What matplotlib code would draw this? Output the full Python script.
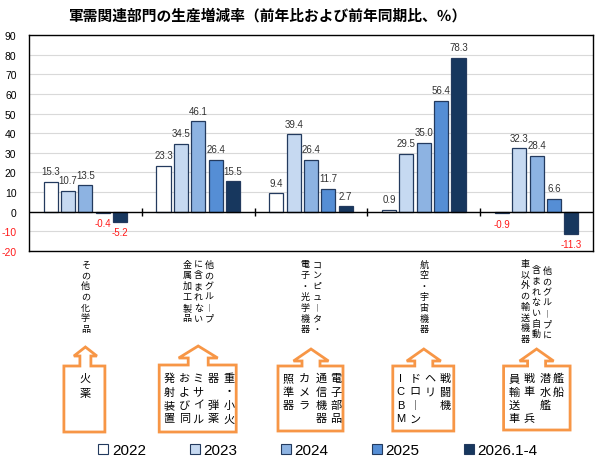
import matplotlib
matplotlib.use("Agg")
import matplotlib.pyplot as plt
import matplotlib.transforms as mtrans
from matplotlib.patches import Polygon
from matplotlib.lines import Line2D

plt.rcParams['font.family'] = ['Liberation Sans', 'Noto Sans CJK JP', 'DejaVu Sans']

# ---------------- data ----------------
categories = ["その他の化学品", "他のグループに含まれない金属加工製品",
              "コンピュータ・電子・光学機器", "航空・宇宙機器",
              "他のグループに含まれない自動車以外の輸送機器"]
series_names = ["2022", "2023", "2024", "2025", "2026.1-4"]
v2022 = [15.3, 23.3, 9.4, 0.9, -0.9]
v2023 = [10.7, 34.5, 39.4, 29.5, 32.3]
v2024 = [13.5, 46.1, 26.4, 35.0, 28.4]
v2025 = [-0.4, 26.4, 11.7, 56.4, 6.6]
v2026 = [-5.2, 15.5, 2.7, 78.3, -11.3]
series_values = [v2022, v2023, v2024, v2025, v2026]
yticks = list(range(-20, 91, 10))

# vertical category label columns (right-to-left), per category
cat_columns = [
    ["その他の化学品"],
    ["他のグル︱プ", "に含まれない", "金属加工製品"],
    ["コンピュ︱タ・", "電子・光学機器"],
    ["航空・宇宙機器"],
    ["他のグル︱プに", "含まれない自動", "車以外の輸送機器"],
]
# examples shown in callout boxes, columns right-to-left
box_columns = [
    ["火薬"],
    ["重・小火", "器　弾薬", "ミサイル", "および同", "発射装置"],
    ["電子部品", "通信機器", "カメラ", "照準器"],
    ["戦闘機", "ヘリ", "ドロ︱ン", "ICBM"],
    ["艦船", "潜水艦", "戦車　兵", "員輸送車"],
]
title = "軍需関連部門の生産増減率（前年比および前年同期比、％）"

colors = ['#ffffff', '#c6d9f1', '#8db3e2', '#558ed5', '#17375e']
edge = '#233a5e'
orange = '#f79646'

W, H = 600, 460
fig = plt.figure(figsize=(W / 100, H / 100), dpi=100)
ax = fig.add_axes([29 / W, 1 - 252 / H, 564 / W, 216 / H])

n = len(categories)
xs = list(range(n))
step = 0.154
bw = 0.125
for j, (vals, c, name) in enumerate(zip(series_values, colors, series_names)):
    pos = [x + (j - 2) * step for x in xs]
    ax.bar(pos, vals, width=bw, color=c, edgecolor=edge, linewidth=0.9,
           label=name, zorder=3)
    for p, v in zip(pos, vals):
        if v >= 0:
            ax.annotate(f"{v:.1f}", (p, v), xytext=(0, 4), textcoords='offset points',
                        ha='center', va='bottom', fontsize=7, color='#333333',
                        family='Liberation Sans')
        else:
            ax.annotate(f"{v:.1f}", (p, v), xytext=(0, -4), textcoords='offset points',
                        ha='center', va='top', fontsize=7, color='#ff1a1a',
                        family='Liberation Sans')

ax.set_xlim(-0.5, n - 0.5)
ax.set_ylim(-20, 90)
ax.set_yticks(yticks)
ax.set_yticklabels([str(t) for t in yticks], fontsize=7.5, family='Liberation Sans')
for lab, t in zip(ax.get_yticklabels(), yticks):
    lab.set_color('#ff1a1a' if t < 0 else 'black')
ax.tick_params(axis='y', length=0, pad=9)
ax.set_xticks([])
ax.grid(axis='y', color='#d9d9d9', linewidth=0.8, zorder=0)
ax.axhline(0, color='black', linewidth=1.0, zorder=4)
ax.plot([x + 0.5 for x in xs[:-1]], [0] * (n - 1), linestyle='none', marker='|',
        markersize=6, color='black', markeredgewidth=1.0, zorder=4)
for s in ax.spines.values():
    s.set_color('black')
    s.set_linewidth(1.0)

# -------- helpers in pixel space ---------
def fy(ypix):
    return 1 - ypix / H

def grp_trans(dx):
    base = mtrans.blended_transform_factory(ax.transData, fig.transFigure)
    return base + mtrans.ScaledTranslation(dx / 100, 0, fig.dpi_scale_trans)

cjk = ['Noto Sans CJK JP', 'DejaVu Sans']

def vcol(i, dx, ytop, text, stepp, fs, weight='normal'):
    tr = grp_trans(dx)
    for k, ch in enumerate(text):
        if ch in ' 　':
            continue
        fam = ['Liberation Sans'] if ch.isascii() else cjk
        fig.text(i, fy(ytop + k * stepp), ch, transform=tr, ha='center', va='center',
                 fontsize=fs, family=fam, weight=weight, color='black')

# category labels
cat_offsets = [[0], [11, 0, -11], [6, -6], [0], [10.5, -0.5, -11.5]]
cat_tops = [[265], [265, 265, 265], [265, 265], [265], [271, 270, 264]]
for i in range(n):
    for txt, dx, yt in zip(cat_columns[i], cat_offsets[i], cat_tops[i]):
        vcol(i, dx, yt, txt, 10.8, 6.5)

# callout boxes (pixel geometry relative to group centre)
box_geom = [  # half-left, half-right, top, bottom, tip, head-base, head half w, stem half w
    (-21.5, 19.5, 367, 433, 348, 357, 11.5, 5.5),
    (-39, 38, 366, 433, 347, 359, 19.5, 10),
    (-33, 32, 367, 432, 350, 362, 17.5, 9),
    (-31, 30, 367, 432, 350, 362, 17, 9),
    (-33, 33.5, 367, 431, 350, 362, 17, 9),
]
box_text_dx = [
    [0],
    [31, 15, 0, -14, -29],
    [25, 10, -7, -23],
    [21, 6, -9, -23],
    [21.5, 8.5, -7.5, -22.5],
]
box_text_step = [15, 13.5, 13.5, 13.5, 13.5]
for i in range(n):
    cxp = ax.transData.transform((i, 0))[0]
    L, R, T, B, Ty, Hy, hw, sw = box_geom[i]
    pts_pix = [(cxp + L, T), (cxp - sw, T), (cxp - sw, Hy), (cxp - hw, Hy), (cxp, Ty),
               (cxp + hw, Hy), (cxp + sw, Hy), (cxp + sw, T), (cxp + R, T),
               (cxp + R, B), (cxp + L, B)]
    pts = [(x / W, fy(y)) for x, y in pts_pix]
    fig.patches.append(Polygon(pts, closed=True, transform=fig.transFigure,
                               facecolor='white', edgecolor=orange, linewidth=2.0,
                               joinstyle='miter'))
    for txt, dx in zip(box_columns[i], box_text_dx[i]):
        vcol(i, dx, 379, txt, box_text_step[i], 8)

# title
fig.text(267 / W, fy(16), title, ha='center', va='center', fontsize=10.6,
         weight='bold', family=cjk)

# legend
handles = [Line2D([], [], linestyle='none', marker='s', markersize=7,
                  markerfacecolor=c, markeredgecolor=edge, markeredgewidth=0.8)
           for c in colors]
fig.legend(handles, series_names, loc='center', bbox_to_anchor=(318 / W, fy(451)),
           ncol=5, frameon=False, handlelength=0.6, handletextpad=0.25,
           columnspacing=2.9, prop={'family': 'Liberation Sans', 'size': 11})

fig.savefig('out.png', dpi=100)
